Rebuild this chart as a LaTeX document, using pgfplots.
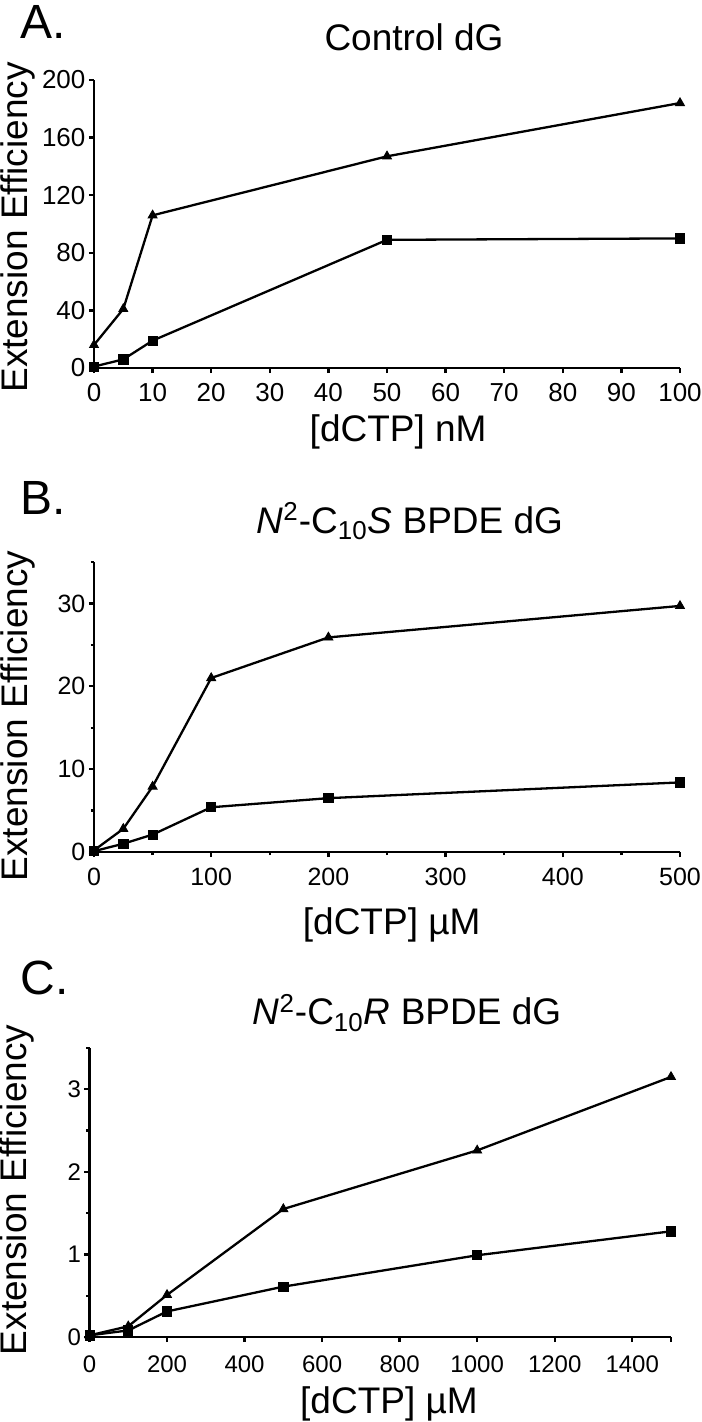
\documentclass[border=0pt]{standalone}
\usepackage{fontspec}
\setmainfont[Ligatures=CommonOff]{Liberation Sans}
\usepackage{pgfplots}
\pgfplotsset{compat=1.18}
\pgfplotsset{
 panel/.style={
  scale only axis, axis lines*=left,
  axis line style={line width=1.35pt, black},
  tick align=outside, tick style={line width=1.2pt, black},
  major tick length=2.6pt, minor tick length=1.6pt,
  clip=false, xmin=0, ymin=0,
  tick label style={font=\fontsize{13}{15}\selectfont, inner sep=1.5pt},
  xticklabel style={yshift=-3.5pt},
  /pgf/number format/assume math mode=true,
  /pgf/number format/1000 sep={},
  label style={font=\fontsize{18.5}{21}\selectfont},
  title style={font=\fontsize{18.5}{21}\selectfont, anchor=base, yshift=-6pt},
  every axis plot/.append style={black, line width=1.15pt},
 },
 tri/.style={mark=triangle*, mark size=2.6pt, mark options={solid, fill=black, line width=0.4pt}},
 sq/.style={mark=square*, mark size=2.3pt, mark options={solid, fill=black, line width=0.4pt}},
}
\begin{document}
\begin{tikzpicture}
% Panel A
\begin{axis}[panel, at={(47pt,-184pt)}, anchor=south west, width=293pt, height=144pt,
  xmax=100, ymax=200, xtick={0,10,...,100}, ytick={0,40,...,200},
  title={Control dG}, title style={at={(axis description cs:0.546,1.104)}},
  xlabel={[dCTP] nM}, xlabel style={at={(axis description cs:0.519,-0.255)}, anchor=base},
  ylabel={Extension Efficiency}, ylabel style={at={(axis description cs:-0.1143,0.488)}, anchor=base}]
\addplot[tri] coordinates {(0,16) (5,41) (10,106) (50,147) (100,184)};
\addplot[sq] coordinates {(0,1) (5,6) (10,19) (50,89) (100,90)};
\end{axis}
% Panel B
\begin{axis}[panel, at={(47pt,-426pt)}, anchor=south west, width=293pt, height=145pt,
  xmax=500, ymax=35, xtick={0,100,...,500}, minor xtick={50,150,...,450},
  ytick={0,10,20,30}, minor ytick={5,15,25,35},
  tick label style={font=\fontsize{12.5}{15}\selectfont},
  title={\textit{N}\textsuperscript{2}-C\textsubscript{10}\textit{S} BPDE dG}, title style={at={(axis description cs:0.539,1.1)}},
  xlabel={[dCTP] µM}, xlabel style={at={(axis description cs:0.508,-0.285)}, anchor=base},
  ylabel={Extension Efficiency}, ylabel style={at={(axis description cs:-0.1143,0.469)}, anchor=base}]
\addplot[tri] coordinates {(0,0.2) (25,2.8) (50,7.9) (100,21) (200,25.9) (500,29.7)};
\addplot[sq] coordinates {(0,0.1) (25,1.0) (50,2.1) (100,5.4) (200,6.5) (500,8.4)};
\end{axis}
% Panel C
\begin{axis}[panel, at={(44.75pt,-668.5pt)}, anchor=south west, width=290.75pt, height=144.5pt,
  xmax=1500, ymax=3.5, xtick={0,200,...,1400}, extra x ticks={1500}, extra x tick labels={},
  ytick={0,1,2,3}, minor ytick={0.5,1.5,2.5,3.5},
  tick label style={font=\fontsize{12}{14}\selectfont},
  xticklabel style={yshift=-1.5pt},
  title={\textit{N}\textsuperscript{2}-C\textsubscript{10}\textit{R} BPDE dG}, title style={at={(axis description cs:0.546,1.08)}},
  xlabel={[dCTP] µM}, xlabel style={at={(axis description cs:0.515,-0.263)}, anchor=base},
  ylabel={Extension Efficiency}, ylabel style={at={(axis description cs:-0.1075,0.509)}, anchor=base}]
\addplot[tri] coordinates {(0,0.02) (100,0.13) (200,0.51) (500,1.55) (1000,2.26) (1500,3.15)};
\addplot[sq] coordinates {(0,0.02) (100,0.08) (200,0.31) (500,0.61) (1000,0.99) (1500,1.28)};
\end{axis}
\node[anchor=base west, inner sep=0, font=\fontsize{24}{27}\selectfont] at (10pt,-19.5pt) {A.};
\node[anchor=base west, inner sep=0, font=\fontsize{24}{27}\selectfont] at (10pt,-257pt) {B.};
\node[anchor=base west, inner sep=0, font=\fontsize{24}{27}\selectfont] at (10pt,-497pt) {C.};
\pgfresetboundingbox
\useasboundingbox (0,0) rectangle (350.5pt,-711pt);
\end{tikzpicture}
\end{document}
